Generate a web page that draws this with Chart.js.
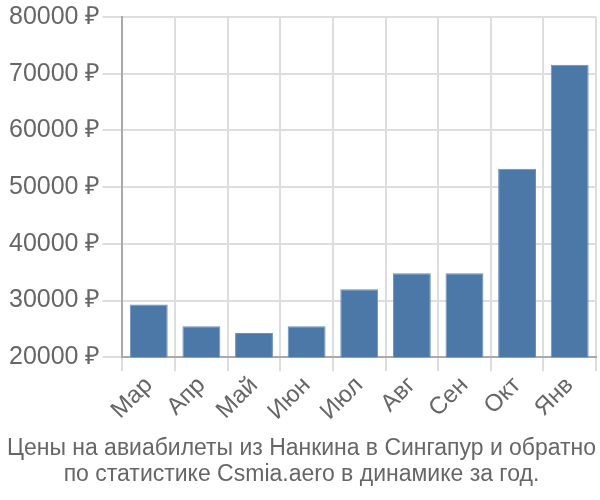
<!DOCTYPE html>
<html>
<head>
<meta charset="utf-8">
<script src="https://cdn.jsdelivr.net/npm/chart.js@4/dist/chart.umd.min.js"></script>
<style>
  html, body { margin: 0; padding: 0; background: #fff; }
  #wrap { width: 600px; height: 500px; }
</style>
</head>
<body>
<div id="wrap"><canvas id="chart"></canvas></div>
<script>
// Months and average prices (rubles)
const months = ['Мар', 'Апр', 'Май', 'Июн', 'Июл', 'Авг', 'Сен', 'Окт', 'Янв'];
const prices = [29300, 25450, 24300, 25450, 32000, 34800, 34800, 53250, 71600];
const titleLines = [
  'Цены на авиабилеты из Нанкина в Сингапур и обратно',
  'по статистике Csmia.aero в динамике за год.'
];

Chart.defaults.font.family = '"Liberation Sans", Arial, sans-serif';
Chart.defaults.color = '#666';

const ctx = document.getElementById('chart').getContext('2d');
new Chart(ctx, {
  type: 'bar',
  data: {
    labels: months,
    datasets: [{
      data: prices,
      backgroundColor: '#4c78a8',
      borderColor: '#6a90ba',
      borderWidth: 1
    }]
  },
  options: {
    responsive: true,
    maintainAspectRatio: false,
    animation: false,
    layout: { padding: { left: 7, right: 4, top: 2, bottom: 12 } },
    scales: {
      x: {
        grid: { color: '#ddd', lineWidth: 2, tickLength: 14, offset: true },
        border: { color: '#aaa', width: 2 },
        ticks: { font: { size: 24 }, maxRotation: 45, minRotation: 45, padding: 0 }
      },
      y: {
        min: 20000,
        max: 80000,
        grid: { color: '#ddd', lineWidth: 2, tickLength: 20 },
        border: { color: '#aaa', width: 2 },
        ticks: {
          stepSize: 10000,
          font: { size: 25 },
          padding: 2,
          callback: (v) => v + ' ₽'
        }
      }
    },
    plugins: {
      legend: { display: false },
      tooltip: { enabled: false },
      title: {
        display: true,
        position: 'bottom',
        text: titleLines,
        color: '#666',
        font: { size: 23, weight: 'normal', lineHeight: 1.15 },
        padding: { top: 9, bottom: 0 }
      }
    }
  }
});
</script>
</body>
</html>
